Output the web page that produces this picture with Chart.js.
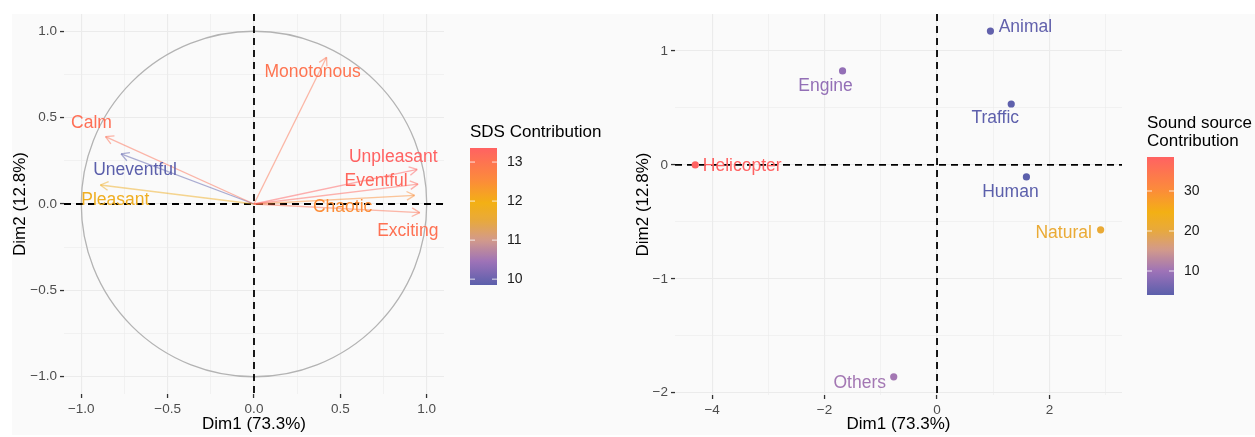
<!DOCTYPE html>
<html>
<head>
<meta charset="utf-8">
<script src="https://cdn.jsdelivr.net/npm/chart.js@4.4.1/dist/chart.umd.min.js"></script>
<style>
  body { margin: 0; background: #fff; width: 1255px; height: 437px; overflow: hidden; position: relative; }
  #bg { position: absolute; left: 12px; top: 14px; width: 1243px; height: 421px; background: #fafafa; }
  #varChart { position: absolute; left: 0; top: 0; }
  #indChart { position: absolute; left: 620px; top: 0; }
</style>
</head>
<body>
<div id="bg"></div>
<canvas id="varChart" width="620" height="437"></canvas>
<canvas id="indChart" width="635" height="437"></canvas>
<script>
// variables (SDS descriptors) – correlation circle
const VAR_NAMES = ["Monotonous", "Calm", "Uneventful", "Pleasant", "Unpleasant", "Eventful", "Chaotic", "Exciting"];
const VAR_DIM1 = [0.42, -0.86, -0.77, -0.89, 0.945, 0.95, 0.93, 0.96];
const VAR_DIM2 = [0.85, 0.39, 0.29, 0.11, 0.20, 0.115, 0.05, -0.05];
const VAR_CONTRIB = [13.0, 13.1, 9.85, 11.8, 13.36, 13.25, 12.5, 13.05];

// individuals (sound sources)
const IND_NAMES = ["Animal", "Engine", "Traffic", "Helicopter", "Human", "Natural", "Others"];
const IND_DIM1 = [0.95, -1.68, 1.32, -4.30, 1.59, 2.91, -0.77];
const IND_DIM2 = [1.175, 0.825, 0.535, 0.0, -0.105, -0.57, -1.86];
const IND_CONTRIB = [4.6, 9.0, 4.3, 38.5, 4.0, 21.0, 10.5];

// ticks
const VAR_TICKS = [-1.0, -0.5, 0.0, 0.5, 1.0];
const VAR_TICK_LABELS = ["\u22121.0", "\u22120.5", "0.0", "0.5", "1.0"];
const VAR_MINOR = [-0.75, -0.25, 0.25, 0.75];
const IND_X_TICKS = [-4, -2, 0, 2];
const IND_X_LABELS = ["\u22124", "\u22122", "0", "2"];
const IND_X_MINOR = [-3, -1, 1, 3];
const IND_Y_TICKS = [-2, -1, 0, 1];
const IND_Y_LABELS = ["\u22122", "\u22121", "0", "1"];
const IND_Y_MINOR = [-1.5, -0.5, 0.5];
const SDS_LEGEND_TICKS = [10, 11, 12, 13];
const SRC_LEGEND_TICKS = [10, 20, 30];

const FONT = "'Liberation Sans', Arial, sans-serif";

// label nudges in px (repel-like placement)
const VAR_LABEL_POS = {
  Monotonous: [-14, 15], Calm: [-14, -13], Uneventful: [14, 16], Pleasant: [15, 15],
  Unpleasant: [-24, -12], Eventful: [-42, -3], Chaotic: [-72, 12], Exciting: [-12, 19]
};
const IND_LABEL_POS = {
  Animal: [35, -4], Engine: [-17, 15], Traffic: [-16, 14], Helicopter: [47, 1],
  Human: [-16, 15], Natural: [-37, 3], Others: [-34, 6]
};

const GRAD = [[0, "#5b5fab"], [0.17, "#9d72b8"], [0.33, "#d39a8a"], [0.47, "#e8a93c"], [0.6, "#f3b014"], [0.77, "#fc8a3c"], [1, "#ff6262"]];

function hexRgb(h) {
  return [parseInt(h.slice(1, 3), 16), parseInt(h.slice(3, 5), 16), parseInt(h.slice(5, 7), 16)];
}
function gradColor(t, alpha = 1) {
  t = Math.max(0, Math.min(1, t));
  let i = 0;
  while (i < GRAD.length - 2 && t > GRAD[i + 1][0]) i++;
  const [t0, c0] = GRAD[i], [t1, c1] = GRAD[i + 1];
  const f = (t - t0) / (t1 - t0);
  const a = hexRgb(c0), b = hexRgb(c1);
  const c = a.map((v, k) => Math.round(v + (b[k] - v) * f));
  return `rgba(${c[0]},${c[1]},${c[2]},${alpha})`;
}

function near(list, v) {
  return list.findIndex(t => Math.abs(t - v) < 1e-6);
}

function axis(min, max, major, labels, minor, fit, title) {
  return {
    type: "linear", min, max,
    afterBuildTicks: s => { s.ticks = major.concat(minor).sort((a, b) => a - b).map(v => ({ value: v })); },
    afterFit: fit,
    border: { display: false },
    grid: {
      color: "#ebebeb",
      lineWidth: c => (c.tick && near(major, c.tick.value) >= 0 ? 1.1 : 0.6),
      tickColor: c => (c.tick && near(major, c.tick.value) >= 0 ? "#333" : "rgba(0,0,0,0)"),
      tickLength: 4, tickWidth: 1.3
    },
    ticks: {
      autoSkip: false, maxRotation: 0, padding: 3, color: "#4d4d4d",
      font: { family: FONT, size: 13.5 },
      callback: v => { const i = near(major, v); return i >= 0 ? labels[i] : ""; }
    },
    title: { display: true, text: title.text, color: "#000", font: { family: FONT, size: 17 }, padding: title.padding }
  };
}

function drawColorbar(ctx, box, min, max, ticks, titleLines) {
  const { x, top, w, bottom } = box;
  const g = ctx.createLinearGradient(0, bottom, 0, top);
  for (let k = 0; k <= 40; k++) g.addColorStop(k / 40, gradColor(k / 40));
  ctx.fillStyle = g;
  ctx.fillRect(x, top, w, bottom - top);
  ctx.font = `17px ${FONT}`;
  ctx.fillStyle = "#000";
  ctx.textAlign = "left";
  ctx.textBaseline = "middle";
  titleLines.forEach(l => ctx.fillText(l.text, x, l.y));
  ctx.font = `14px ${FONT}`;
  ctx.fillStyle = "#1a1a1a";
  ctx.strokeStyle = "rgba(255,255,255,0.8)";
  ctx.lineWidth = 1;
  ticks.forEach(v => {
    const yy = bottom - (v - min) / (max - min) * (bottom - top);
    ctx.beginPath();
    ctx.moveTo(x, yy); ctx.lineTo(x + 5, yy);
    ctx.moveTo(x + w - 5, yy); ctx.lineTo(x + w, yy);
    ctx.stroke();
    ctx.fillText(String(v), x + w + 10, yy);
  });
}

function overlay(cfg) {
  return {
    id: "overlay",
    beforeDatasetsDraw(chart) {
      const { ctx, chartArea: a, scales: { x, y } } = chart;
      const x0 = x.getPixelForValue(0), y0 = y.getPixelForValue(0);
      ctx.save();
      if (cfg.circle) {
        ctx.strokeStyle = "#b3b3b3";
        ctx.lineWidth = 1.3;
        ctx.beginPath();
        ctx.ellipse(x0, y0, x.getPixelForValue(1) - x0, y0 - y.getPixelForValue(1), 0, 0, Math.PI * 2);
        ctx.stroke();
      }
      ctx.strokeStyle = "#000";
      ctx.lineWidth = 1.8;
      ctx.setLineDash([7, 5]);
      ctx.beginPath();
      ctx.moveTo(a.left, y0); ctx.lineTo(a.right, y0);
      ctx.moveTo(x0, a.top); ctx.lineTo(x0, a.bottom);
      ctx.stroke();
      ctx.restore();
    },
    afterDatasetsDraw(chart) {
      const { ctx, scales: { x, y } } = chart;
      ctx.save();
      if (cfg.arrows) {
        const x0 = x.getPixelForValue(0), y0 = y.getPixelForValue(0);
        cfg.names.forEach((n, i) => {
          const px = x.getPixelForValue(cfg.d1[i]), py = y.getPixelForValue(cfg.d2[i]);
          const ang = Math.atan2(py - y0, px - x0);
          ctx.strokeStyle = cfg.color(i, 0.5);
          ctx.lineWidth = 1.3;
          ctx.beginPath();
          for (const s of [-1, 1]) {
            ctx.moveTo(px, py);
            ctx.lineTo(px - 9 * Math.cos(ang + s * 0.5), py - 9 * Math.sin(ang + s * 0.5));
          }
          ctx.stroke();
        });
      }
      ctx.font = `17.5px ${FONT}`;
      ctx.textAlign = "center";
      ctx.textBaseline = "middle";
      cfg.names.forEach((n, i) => {
        const [dx, dy] = cfg.labelPos[n];
        ctx.fillStyle = cfg.color(i, 1);
        ctx.fillText(n, x.getPixelForValue(cfg.d1[i]) + dx, y.getPixelForValue(cfg.d2[i]) + dy);
      });
      ctx.restore();
    },
    afterDraw(chart) {
      const { ctx } = chart;
      ctx.save();
      drawColorbar(ctx, cfg.bar, cfg.min, cfg.max, cfg.barTicks, cfg.barTitle);
      ctx.restore();
    }
  };
}

// ---- left: variables ----
const varMin = Math.min(...VAR_CONTRIB), varMax = Math.max(...VAR_CONTRIB);
const varColor = (i, a) => gradColor((VAR_CONTRIB[i] - varMin) / (varMax - varMin), a);

new Chart(document.getElementById("varChart"), {
  type: "scatter",
  data: {
    datasets: VAR_NAMES.map((n, i) => ({
      label: n,
      data: [{ x: 0, y: 0 }, { x: VAR_DIM1[i], y: VAR_DIM2[i] }],
      showLine: true,
      borderColor: varColor(i, 0.5),
      borderWidth: 1.3,
      pointRadius: 0
    }))
  },
  options: {
    responsive: false,
    animation: false,
    events: [],
    layout: { padding: { top: 14, right: 176, bottom: 0, left: 0 } },
    plugins: { legend: { display: false }, tooltip: { enabled: false } },
    scales: {
      x: axis(-1.1, 1.1, VAR_TICKS, VAR_TICK_LABELS, VAR_MINOR, s => { s.height = 43; },
        { text: "Dim1 (73.3%)", padding: { top: 0, bottom: 2 } }),
      y: axis(-1.1, 1.1, VAR_TICKS, VAR_TICK_LABELS, VAR_MINOR, s => { s.width = 64; },
        { text: "Dim2 (12.8%)", padding: { top: 10, bottom: 0 } })
    }
  },
  plugins: [overlay({
    circle: true, arrows: true,
    names: VAR_NAMES, d1: VAR_DIM1, d2: VAR_DIM2, color: varColor, labelPos: VAR_LABEL_POS,
    bar: { x: 470, top: 148, w: 27, bottom: 285 }, min: varMin, max: varMax, barTicks: SDS_LEGEND_TICKS,
    barTitle: [{ text: "SDS Contribution", y: 132 }]
  })]
});

// ---- right: sound sources ----
const indMin = Math.min(...IND_CONTRIB), indMax = Math.max(...IND_CONTRIB);
const indColor = (i, a) => gradColor((IND_CONTRIB[i] - indMin) / (indMax - indMin), a);

new Chart(document.getElementById("indChart"), {
  type: "scatter",
  data: {
    datasets: [{
      label: "Sound source",
      data: IND_NAMES.map((n, i) => ({ x: IND_DIM1[i], y: IND_DIM2[i] })),
      pointBackgroundColor: IND_NAMES.map((n, i) => indColor(i, 1)),
      pointBorderWidth: 0,
      pointRadius: 3.6
    }]
  },
  options: {
    responsive: false,
    animation: false,
    events: [],
    layout: { padding: { top: 14, right: 133, bottom: 0, left: 0 } },
    plugins: { legend: { display: false }, tooltip: { enabled: false } },
    scales: {
      x: axis(-4.66, 3.29, IND_X_TICKS, IND_X_LABELS, IND_X_MINOR, s => { s.height = 42; },
        { text: "Dim1 (73.3%)", padding: { top: 0, bottom: 2 } }),
      y: axis(-2.02, 1.325, IND_Y_TICKS, IND_Y_LABELS, IND_Y_MINOR, s => { s.width = 55; },
        { text: "Dim2 (12.8%)", padding: { top: 13, bottom: 0 } })
    }
  },
  plugins: [overlay({
    circle: false, arrows: false,
    names: IND_NAMES, d1: IND_DIM1, d2: IND_DIM2, color: indColor, labelPos: IND_LABEL_POS,
    bar: { x: 527, top: 157, w: 27, bottom: 295 }, min: indMin, max: indMax, barTicks: SRC_LEGEND_TICKS,
    barTitle: [{ text: "Sound source", y: 123 }, { text: "Contribution", y: 141 }]
  })]
});
</script>
</body>
</html>
